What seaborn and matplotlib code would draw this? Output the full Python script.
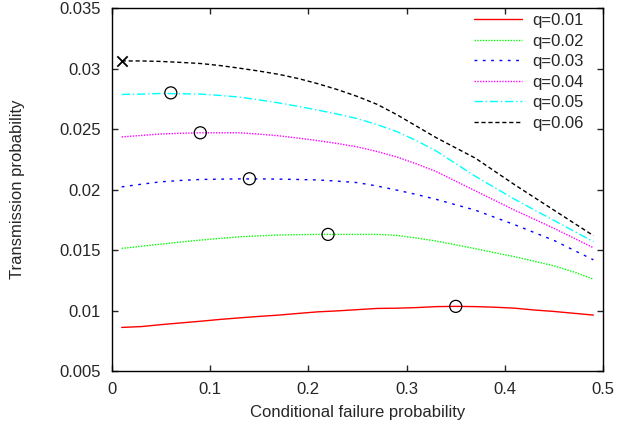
import matplotlib
matplotlib.use("Agg")
import matplotlib.pyplot as plt
import seaborn as sns
import pandas as pd

# conditional failure probability grid
cfp = [0.01, 0.03, 0.05, 0.07, 0.09, 0.11, 0.13, 0.15, 0.17, 0.19, 0.21, 0.23, 0.25,
       0.27, 0.29, 0.31, 0.33, 0.35, 0.37, 0.39, 0.41, 0.43, 0.45, 0.47, 0.49]

q001 = [0.00861, 0.00868, 0.00884, 0.00898, 0.00912, 0.00927, 0.0094, 0.00952, 0.00963, 0.00977, 0.0099, 0.00998, 0.01008,
        0.01018, 0.0102, 0.01025, 0.01033, 0.01035, 0.01033, 0.01028, 0.0102, 0.01005, 0.00993, 0.00978, 0.00963]
q002 = [0.01514, 0.01532, 0.0155, 0.01567, 0.01583, 0.01597, 0.0161, 0.01618, 0.01625, 0.01628, 0.0163, 0.0163, 0.0163,
        0.0163, 0.01622, 0.016, 0.01575, 0.01544, 0.01512, 0.01478, 0.01445, 0.01408, 0.0137, 0.0132, 0.0126]
q003 = [0.02023, 0.02045, 0.02065, 0.02076, 0.02084, 0.02087, 0.02089, 0.02089, 0.02087, 0.02084, 0.0208, 0.0207, 0.02058,
        0.0203, 0.01996, 0.0196, 0.0192, 0.01875, 0.0183, 0.0177, 0.0171, 0.01645, 0.0158, 0.015, 0.0142]
q004 = [0.02436, 0.02448, 0.0246, 0.02466, 0.0247, 0.0247, 0.0247, 0.02459, 0.02445, 0.02426, 0.02405, 0.02381, 0.02353,
        0.02315, 0.0227, 0.02213, 0.0215, 0.0207, 0.0199, 0.0191, 0.0183, 0.01755, 0.0168, 0.016, 0.0152]
q005 = [0.02787, 0.0279, 0.02795, 0.02793, 0.0279, 0.02779, 0.02765, 0.02742, 0.02717, 0.02688, 0.02657, 0.02624, 0.02587,
        0.02537, 0.0248, 0.02405, 0.0232, 0.02215, 0.0211, 0.02015, 0.0192, 0.01832, 0.01745, 0.01658, 0.0157]
q006 = [0.03064, 0.03064, 0.0306, 0.03052, 0.03043, 0.03026, 0.03004, 0.0298, 0.02953, 0.02918, 0.02875, 0.02826, 0.0277,
        0.02705, 0.0262, 0.02525, 0.0243, 0.02345, 0.0226, 0.0215, 0.0204, 0.01935, 0.0183, 0.01725, 0.0162]

labels = ["q=0.01", "q=0.02", "q=0.03", "q=0.04", "q=0.05", "q=0.06"]
series = [q001, q002, q003, q004, q005, q006]

# maxima marked with circles, and the x for q=0.06
peak_x = [0.35, 0.22, 0.14, 0.09, 0.06]
peak_y = [0.01035, 0.0163, 0.0209, 0.0247, 0.0280]
cross_x = [0.01]
cross_y = [0.03064]

colors = ["#ff0000", "#00ff00", "#0000ff", "#ff00ff", "#00ffff", "#000000"]
dashes = [None, (1, 1), (2, 4), (1, 1), (6, 2, 1, 2), (3, 2)]

sns.set_style("ticks")
plt.rcParams["font.family"] = ["Liberation Sans", "DejaVu Sans"]
plt.rcParams["font.size"] = 12

fig = plt.figure(figsize=(6.18, 4.32), dpi=100)
ax = fig.add_axes([0.181, 0.141, 0.795, 0.840])

for lab, vals, col, dsh in zip(labels, series, colors, dashes):
    df = pd.DataFrame({"x": cfp, "y": vals})
    sns.lineplot(data=df, x="x", y="y", ax=ax, color=col, linewidth=1.0, label=lab)
    if dsh is not None:
        ax.lines[-1].set_dashes(dsh)

sns.scatterplot(x=peak_x, y=peak_y, ax=ax, marker="o", s=75, facecolor="none",
                edgecolor="black", linewidth=0.9, zorder=5)
sns.scatterplot(x=cross_x, y=cross_y, ax=ax, marker="x", s=55, color="black",
                linewidth=1.3, zorder=5)

ax.set_xlim(0, 0.5)
ax.set_ylim(0.005, 0.035)
ax.set_xticks([0, 0.1, 0.2, 0.3, 0.4, 0.5])
ax.set_xticklabels(["0", "0.1", "0.2", "0.3", "0.4", "0.5"])
ax.set_yticks([0.005, 0.01, 0.015, 0.02, 0.025, 0.03, 0.035])
ax.set_yticklabels(["0.005", "0.01", "0.015", "0.02", "0.025", "0.03", "0.035"])
ax.tick_params(direction="in", length=4, width=1, top=True, right=True, labelsize=12, pad=8)
for sp in ax.spines.values():
    sp.set_visible(True)
    sp.set_linewidth(1)
    sp.set_color("black")

ax.set_xlabel("Conditional failure probability", fontsize=12)
ax.set_ylabel("Transmission probability", fontsize=12)
ax.xaxis.set_label_coords(0.5, -0.094)
ax.yaxis.set_label_coords(-0.177, 0.5)

ax.legend(loc="upper right", bbox_to_anchor=(0.9735, 1.005), frameon=False,
          handlelength=2.9, labelspacing=0.33, handletextpad=0.6, fontsize=12,
          borderaxespad=0)

fig.savefig("out.png", dpi=100)
